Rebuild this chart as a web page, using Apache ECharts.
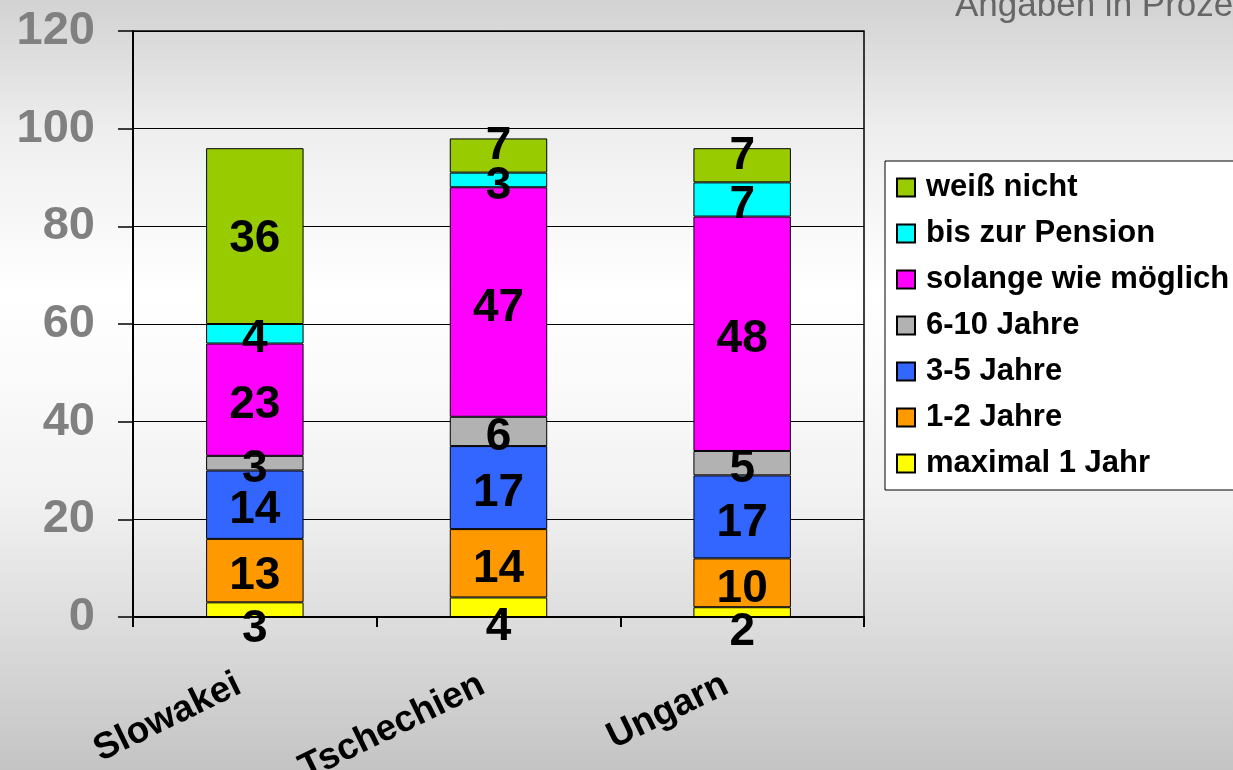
<!DOCTYPE html>
<html lang="de">
<head>
<meta charset="UTF-8">
<title>Angaben in Prozent</title>
<script src="https://cdn.jsdelivr.net/npm/echarts@6/dist/echarts.min.js"></script>
<style>
  html, body { margin: 0; padding: 0; }
  #chart { width: 1233px; height: 770px; }
</style>
</head>
<body>
<div id="chart"></div>
<script>
// Daten
var laender = ['Slowakei', 'Tschechien', 'Ungarn'];
var kategorien = ['maximal 1 Jahr', '1-2 Jahre', '3-5 Jahre', '6-10 Jahre', 'solange wie möglich', 'bis zur Pension', 'weiß nicht'];
var maximal1 = [3, 4, 2];
var jahre1bis2 = [13, 14, 10];
var jahre3bis5 = [14, 17, 17];
var jahre6bis10 = [3, 6, 5];
var solange = [23, 47, 48];
var bisPension = [4, 3, 7];
var weissNicht = [36, 7, 7];
var yTicks = [0, 20, 40, 60, 80, 100, 120];

var werte = [maximal1, jahre1bis2, jahre3bis5, jahre6bis10, solange, bisPension, weissNicht];
var farben = ['#FFFF00', '#FF9900', '#3366FF', '#B2B2B2', '#FF00FF', '#00FFFF', '#99CC00'];

var schrift = 'Arial, "Liberation Sans", sans-serif';
var chart = echarts.init(document.getElementById('chart'));

// Beschriftung etwa wie in Excel: unterste Zahl unter die Achse, kleine oberste Segmente etwas höher
function labelOffset(serie, wert) {
    if (serie === 0) return [0, 20];
    if (serie === werte.length - 1) return wert < 10 ? [0, -9] : [0, 3];
    return [0, 6];
}

var series = kategorien.map(function (name, i) {
    return {
        name: name,
        type: 'bar',
        stack: 'gesamt',
        barWidth: '40%',
        data: werte[i].map(function (v) {
            return { value: v, label: { offset: labelOffset(i, v) } };
        }),
        itemStyle: { color: farben[i], borderColor: '#000', borderWidth: 1 },
        label: {
            show: true,
            position: 'inside',
            color: '#000',
            fontSize: 46,
            fontWeight: 'bold',
            fontFamily: schrift
        }
    };
});

chart.setOption({
    backgroundColor: new echarts.graphic.LinearGradient(0, 0, 0, 1, [
        { offset: 0, color: '#d2d2d2' },
        { offset: 0.17, color: '#eeeeee' },
        { offset: 0.38, color: '#ffffff' },
        { offset: 0.5, color: '#fafafa' },
        { offset: 0.65, color: '#f1f1f1' },
        { offset: 0.8, color: '#dedede' },
        { offset: 1, color: '#c4c4c4' }
    ]),
    animation: false,
    title: {
        text: 'Angaben in Prozent',
        left: 950,
        top: -16,
        textStyle: { color: '#666', fontSize: 35, fontWeight: 'normal', fontFamily: schrift }
    },
    legend: {
        orient: 'vertical',
        left: 885,
        top: 161,
        data: kategorien.slice().reverse(),
        itemWidth: 18,
        itemHeight: 18,
        itemGap: 15,
        padding: [11, 200, 11, 11],
        backgroundColor: '#fff',
        borderColor: '#000',
        borderWidth: 1,
        icon: 'rect',
        textStyle: { color: '#000', fontSize: 31, fontWeight: 'bold', fontFamily: schrift, padding: [0, 0, 0, 6] }
    },
    grid: {
        left: 133, top: 31, right: 369, bottom: 153,
        show: true, borderColor: '#000', borderWidth: 1.5,
        backgroundColor: 'transparent',
        containLabel: false,
        outerBoundsMode: 'none'
    },
    xAxis: {
        type: 'category',
        data: laender,
        axisLine: { lineStyle: { color: '#000', width: 2 } },
        axisTick: { show: true, alignWithLabel: false, length: 10, lineStyle: { color: '#000', width: 2 } },
        axisLabel: {
            rotate: 26,
            margin: 58,
            padding: [0, 18, 0, 0],
            color: '#000',
            fontSize: 37,
            fontWeight: 'bold',
            fontFamily: schrift
        }
    },
    yAxis: {
        type: 'value',
        min: yTicks[0],
        max: yTicks[yTicks.length - 1],
        interval: 20,
        axisLine: { show: true, lineStyle: { color: '#000', width: 2 } },
        axisTick: { show: true, length: 15, lineStyle: { color: '#000', width: 1.5 } },
        splitLine: { lineStyle: { color: '#000', width: 1 } },
        axisLabel: {
            margin: 38,
            color: '#808080',
            fontSize: 47,
            fontWeight: 'bold',
            fontFamily: schrift
        }
    },
    series: series
});
</script>
</body>
</html>
